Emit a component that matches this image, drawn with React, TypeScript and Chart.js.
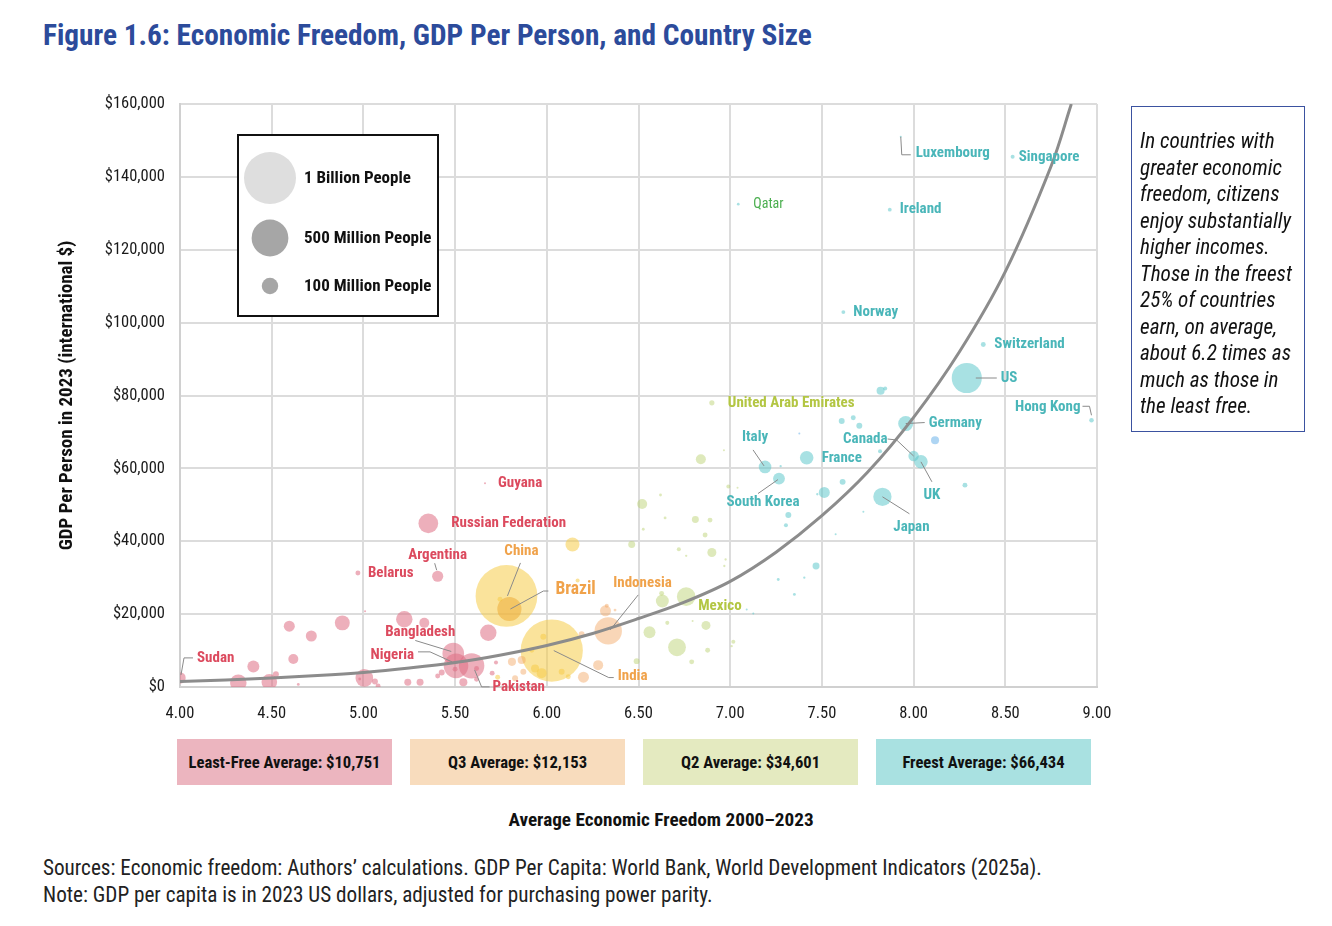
import React, { useEffect, useRef } from "react";
import { Chart, registerables } from "chart.js";

Chart.register(...registerables);

const CF = "'Roboto Condensed','Liberation Sans Narrow','Arial Narrow','DejaVu Sans Condensed',Roboto,sans-serif";

// ---------------- DATA ----------------
// Country names ('' = unlabeled), average economic freedom, GDP per person (2023 PPP $), population (millions), quartile colour group
const names = [
  "Sudan", "Belarus", "Argentina", "Russian Federation", "Guyana", "Bangladesh", "Nigeria", "Pakistan",
  "China", "Brazil", "Indonesia", "India", "Mexico", "United Arab Emirates", "Qatar", "Italy", "South Korea",
  "France", "Canada", "UK", "Germany", "Japan", "US", "Switzerland", "Hong Kong", "Norway", "Ireland",
  "Singapore", "Luxembourg",
  // least free (unlabeled)
  "", "", "", "", "", "", "", "", "", "", "", "", "", "", "", "", "", "", "", "", "", "", "", "", "", "", "",
  // Q3 (unlabeled)
  "", "", "", "", "", "", "", "", "", "",
  "", "", "", "", "", "", "", "", "", "",
  // Q2 (unlabeled)
  "", "", "", "", "", "", "", "", "", "", "", "", "", "", "", "", "", "", "", "", "", "", "", "", "", "", "", "", "",
  // freest (unlabeled)
  "", "", "", "", "", "", "", "", "", "", "", "", "", "", "", "", "", "", "", "", "", "", "",
];

const freedom = [
  4.0, 4.97, 5.405, 5.354, 5.663, 5.49, 5.505, 5.59,
  5.78, 5.796, 6.335, 6.027, 6.76, 6.9, 7.044, 7.19, 7.266,
  7.417, 8.0, 8.04, 7.957, 7.83, 8.29, 8.38, 8.97, 7.617, 7.87,
  8.54, 7.93,
  4.318, 4.4, 4.487, 4.523, 4.596, 4.618, 4.645, 4.716, 4.885, 5.009, 5.005, 4.98, 5.063, 5.08, 5.223, 5.332, 5.242, 5.309, 5.405, 5.427, 5.545, 5.681, 5.617, 5.702, 5.723, 5.5, 5.617,
  6.14, 6.168, 5.745, 5.918, 5.936, 5.972, 6.081, 6.117, 5.981, 5.732,
  6.28, 6.32, 6.327, 6.372, 6.19, 6.2, 5.81, 5.863, 5.872, 5.827,
  6.84, 6.966, 6.99, 7.04, 6.52, 6.62, 6.645, 6.526, 6.81, 6.89, 6.863, 6.463, 6.72, 6.76, 6.9, 6.975, 6.968, 6.626, 6.63, 6.657, 6.56, 6.795, 6.868, 6.71, 6.877, 6.79, 6.49, 7.017, 7.008,
  7.608, 7.671, 7.704, 7.82, 7.845, 7.377, 7.275, 7.817, 7.613, 7.513, 7.475, 7.317, 7.304, 7.726, 7.575, 7.468, 7.262, 7.404, 7.35, 8.28, 7.126, 7.09, 8.117,
];

const gdp = [
  2500, 31300, 30400, 44900, 55900, 9200, 5800, 5800,
  25000, 21400, 15400, 10000, 24800, 78000, 132500, 60400, 57200,
  62900, 63400, 61800, 72300, 52200, 84800, 94000, 73200, 102900, 131000,
  145500, 151000,
  1200, 5600, 1400, 3500, 16700, 7700, 700, 14000, 17600, 20800, 2500, 2200, 1500, 300, 18600, 17600, 1300, 1300, 3000, 4000, 1300, 14900, 2100, 3800, 6700, 4900, 5100,
  39100, 29200, 24100, 10100, 5100, 3800, 4200, 2800, 13800, 2700,
  6000, 20900, 22300, 21100, 14500, 2700, 6900, 7400, 4200, 2400,
  62500, 65000, 55000, 54700, 50200, 52700, 46400, 43300, 46000, 45800, 41700, 39100, 37800, 36000, 36900, 35000, 33200, 25700, 23600, 17600, 15000, 18100, 16900, 10900, 10100, 6900, 7100, 12400, 11200,
  73000, 73900, 71700, 81300, 81900, 69600, 60600, 64700, 56300, 53400, 52900, 47200, 44400, 48100, 41900, 33200, 29500, 30000, 25400, 55400, 20200, 21300, 67700,
];

const population = [
  48, 9, 46, 144, 0.8, 173, 224, 240,
  1410, 216, 278, 1430, 128, 10, 2.7, 59, 52,
  68, 40, 68, 84, 124, 335, 8.8, 7.5, 5.5, 5.3,
  5.9, 0.66,
  100, 53, 90, 13, 45, 37, 3, 45, 83, 1.5, 115, 3, 13, 9, 100, 37, 18, 18, 9, 13, 24, 100, 9, 9, 6, 9, 9,
  72, 6, 9, 9, 24, 37, 13, 9, 13, 9,
  37, 45, 6, 3, 13, 45, 24, 24, 13, 13,
  37, 1.5, 6, 1.5, 37, 3, 3, 3, 18, 9, 9, 18, 6, 2, 30, 2, 2, 9, 62, 6, 53, 1.5, 30, 117, 9, 9, 13, 6, 2,
  13, 9, 13, 24, 6, 1, 2, 6, 13, 45, 2, 13, 6, 1, 1, 18, 3, 2, 3, 9, 1.5, 1.5, 24,
];

// L = least free, Y/B/P = third quartile, G = second quartile, T = freest, U = other territories
const groups = [
  "L", "L", "L", "L", "L", "L", "L", "L",
  "Y", "B", "P", "Y", "G", "G", "T", "T", "T",
  "T", "T", "T", "T", "T", "T", "T", "T", "T", "T",
  "T", "T",
  "L", "L", "L", "L", "L", "L", "L", "L", "L", "L", "L", "L", "L", "L", "L", "L", "L", "L", "L", "L", "L", "L", "L", "L", "L", "L", "L",
  "Y", "Y", "Y", "Y", "Y", "Y", "Y", "Y", "Y", "Y",
  "P", "P", "P", "P", "P", "P", "P", "P", "P", "P",
  "G", "G", "G", "G", "G", "G", "G", "G", "G", "G", "G", "G", "G", "G", "G", "G", "G", "G", "G", "G", "G", "G", "G", "G", "G", "G", "G", "G", "G",
  "T", "T", "T", "T", "T", "U", "T", "T", "T", "T", "T", "T", "T", "T", "T", "T", "T", "T", "T", "T", "T", "T", "U",
];

// Trend line
const trendFreedom = [4.0, 4.25, 4.5, 4.75, 5.0, 5.25, 5.5, 5.75, 6.0, 6.25, 6.5, 6.75, 7.0, 7.25, 7.5, 7.75, 8.0, 8.25, 8.5, 8.75, 8.86];
const trendGdp = [1500, 1950, 2500, 3150, 4000, 5200, 6700, 8800, 11400, 14700, 18800, 23300, 29000, 37000, 47000, 59000, 74000, 92000, 114000, 143000, 160000];

const xTicks = [4, 4.5, 5, 5.5, 6, 6.5, 7, 7.5, 8, 8.5, 9];
const yTicks = [0, 20000, 40000, 60000, 80000, 100000, 120000, 140000, 160000];

const legendPops = [1000, 500, 100];
const legendLabels = ["1 Billion People", "500 Million People", "100 Million People"];

const quartileNames = ["Least-Free Average", "Q3 Average", "Q2 Average", "Freest Average"];
const quartileAverages = [10751, 12153, 34601, 66434];

const noteLines = [
  "In countries with", "greater economic", "freedom, citizens", "enjoy substantially", "higher incomes.",
  "Those in the freest", "25% of countries", "earn, on average,", "about 6.2 times as", "much as those in", "the least free.",
];

const sourceLines = [
  "Sources: Economic freedom: Authors\u2019 calculations. GDP Per Capita: World Bank, World Development Indicators (2025a).",
  "Note: GDP per capita is in 2023 US dollars, adjusted for purchasing power parity.",
];

// ---------------- STYLE ----------------
const groupFill: Record<string, string> = {
  L: "rgba(222,110,132,0.55)",
  Y: "rgba(246,204,72,0.55)",
  B: "rgba(238,176,64,0.6)",
  P: "rgba(242,165,95,0.45)",
  G: "rgba(182,206,104,0.45)",
  T: "rgba(96,200,204,0.55)",
  U: "rgba(120,185,235,0.6)",
};
const groupText: Record<string, string> = {
  L: "#dc4a5e", Y: "#f0a24a", B: "#f0a24a", P: "#f0a24a", G: "#b3c643", T: "#4ab6b9", U: "#4ab6b9",
};
const boxColors = ["#ecb5bf", "#f8dcbd", "#e4eac0", "#a9e1e1"];

const radiusOf = (pop: number) => Math.max(1, 26 * Math.sqrt(pop / 1000));

type LabelSpec = { name: string; dx: number; dy: number; align?: CanvasTextAlign; leader?: number[][]; size?: number; color?: string; weight?: string };
const LABELS: LabelSpec[] = [
  { name: "Sudan", dx: 17, dy: -20, leader: [[1, -3], [4, -20], [13, -20]] },
  { name: "Belarus", dx: 10, dy: 0 },
  { name: "Argentina", dx: 0, dy: -21, align: "center", leader: [[-1, -6], [-3, -13]] },
  { name: "Russian Federation", dx: 23, dy: 0 },
  { name: "Guyana", dx: 13, dy: 0 },
  { name: "Bangladesh", dx: 2, dy: -21, align: "right", leader: [[-38, -13], [-2, -2]] },
  { name: "Nigeria", dx: -42, dy: -11, align: "right", leader: [[-38, -14], [-26, -14], [-4, -4]] },
  { name: "Pakistan", dx: 21, dy: 21, leader: [[18, 21], [10, 21], [3, 4]] },
  { name: "China", dx: 15, dy: -45, align: "center", leader: [[14, -33], [1, 0]] },
  { name: "Brazil", dx: 46, dy: -19, size: 17.5, leader: [[39, -18], [34, -18], [1, 0]] },
  { name: "Indonesia", dx: 5, dy: -48, leader: [[30, -36], [2, -1]] },
  { name: "India", dx: 66, dy: 26, leader: [[62, 27], [57, 27], [2, 0]] },
  { name: "Mexico", dx: 12, dy: 10 },
  { name: "United Arab Emirates", dx: 16, dy: 0 },
  { name: "Qatar", dx: 15, dy: 0, color: "#4caf50", weight: "normal", size: 14 },
  { name: "Italy", dx: -10, dy: -30, align: "center", leader: [[-12, -17], [-1, -1]] },
  { name: "South Korea", dx: -16, dy: 24, align: "center", leader: [[-21, 15], [-1, 1]] },
  { name: "France", dx: 15, dy: 0 },
  { name: "Canada", dx: -26, dy: -17, align: "right", leader: [[-26, -17], [-17, -16], [0, 0]] },
  { name: "Germany", dx: 23, dy: 0, leader: [[19, -1], [0, 0]] },
  { name: "UK", dx: 11, dy: 33, align: "center", leader: [[11, 20], [0, 0]] },
  { name: "Japan", dx: 29, dy: 30, align: "center", leader: [[27, 17], [0, 0]] },
  { name: "US", dx: 34, dy: 0, leader: [[30, 0], [9, 0]] },
  { name: "Switzerland", dx: 11, dy: 0 },
  { name: "Hong Kong", dx: -11, dy: -13, align: "right", leader: [[-9, -14], [-2, -14], [0, -5]] },
  { name: "Norway", dx: 10, dy: 0 },
  { name: "Ireland", dx: 10, dy: 0 },
  { name: "Singapore", dx: 6, dy: 0 },
  { name: "Luxembourg", dx: 15, dy: 16, leader: [[0, 0], [1, 18], [10, 18]] },
];

const labelPlugin = {
  id: "countryLabels",
  afterDatasetsDraw(chart: any) {
    const { ctx, scales } = chart;
    const xs = scales.x, ys = scales.y;
    ctx.save();
    // country labels
    LABELS.forEach((l) => {
      const i = names.indexOf(l.name);
      if (i < 0) return;
      const px = xs.getPixelForValue(freedom[i]);
      const py = ys.getPixelForValue(gdp[i]);
      if (l.leader) {
        ctx.beginPath();
        l.leader.forEach(([dx, dy], k) => (k ? ctx.lineTo(px + dx, py + dy) : ctx.moveTo(px + dx, py + dy)));
        ctx.strokeStyle = "#8a8a8a";
        ctx.lineWidth = 1;
        ctx.stroke();
      }
      ctx.font = `${l.weight || "bold"} ${l.size || 15}px ${CF}`;
      ctx.fillStyle = l.color || groupText[groups[i]];
      ctx.textAlign = l.align || "left";
      ctx.textBaseline = "middle";
      ctx.fillText(l.name, px + l.dx, py + l.dy);
    });
    // size legend
    const bx = 230, by = 127, bw = 200, bh = 181;
    ctx.fillStyle = "#ffffff";
    ctx.fillRect(bx, by, bw, bh);
    ctx.strokeStyle = "#111";
    ctx.lineWidth = 2;
    ctx.strokeRect(bx, by, bw, bh);
    const rowsY = [170, 230, 278];
    const fills = ["#dedede", "#a6a6a6", "#a6a6a6"];
    legendPops.forEach((p, k) => {
      ctx.beginPath();
      ctx.arc(262, rowsY[k], radiusOf(p), 0, Math.PI * 2);
      ctx.fillStyle = fills[k];
      ctx.fill();
      ctx.font = `bold 17px ${CF}`;
      ctx.fillStyle = "#111";
      ctx.textAlign = "left";
      ctx.textBaseline = "middle";
      ctx.fillText(legendLabels[k], 296, rowsY[k] + 1);
    });
    ctx.restore();
  },
};

const groupOrder = ["U", "L", "B", "P", "Y", "G", "T"];

export default function App() {
  const ref = useRef<HTMLCanvasElement>(null);
  useEffect(() => {
    if (!ref.current) return;
    const bubbleSets = groupOrder.map((g, k) => {
      const idx = names.map((_, i) => i).filter((i) => groups[i] === g);
      idx.sort((a, b) => population[b] - population[a]);
      return {
        type: "bubble" as const,
        label: g,
        order: 1 + k,
        data: idx.map((i) => ({ x: freedom[i], y: gdp[i], r: radiusOf(population[i]) })),
        backgroundColor: groupFill[g],
        borderWidth: 0,
        hoverBorderWidth: 0,
      };
    });
    const chart = new Chart(ref.current, {
      type: "bubble",
      data: {
        datasets: [
          {
            type: "line",
            label: "trend",
            order: 0,
            data: trendFreedom.map((x, i) => ({ x, y: trendGdp[i] })),
            borderColor: "#8c8c8c",
            borderWidth: 3,
            pointRadius: 0,
            tension: 0.35,
            fill: false,
          } as any,
          ...bubbleSets,
        ],
      },
      options: {
        animation: false,
        responsive: false,
        events: [],
        layout: { padding: { left: 40, top: 96, right: 227, bottom: 0 } },
        plugins: { legend: { display: false }, tooltip: { enabled: false } },
        scales: {
          x: {
            type: "linear",
            min: 4,
            max: 9,
            afterFit: (s: any) => { s.height = 46; },
            afterBuildTicks: (s: any) => { s.ticks = xTicks.map((v) => ({ value: v })); },
            grid: { color: "#dcdcdc", lineWidth: 2, drawTicks: false },
            border: { color: "#d0d0d0", width: 2 },
            ticks: {
              autoSkip: false,
              padding: 16.5,
              color: "#1a1a1a",
              font: { family: CF, size: 16.5 },
              callback: (v: any) => Number(v).toFixed(2),
            },
          },
          y: {
            type: "linear",
            min: 0,
            max: 160000,
            afterFit: (s: any) => { s.width = 132; },
            afterBuildTicks: (s: any) => { s.ticks = yTicks.map((v) => ({ value: v })); },
            grid: { color: "#dcdcdc", lineWidth: 2, drawTicks: false },
            border: { color: "#d0d0d0", width: 2 },
            ticks: {
              autoSkip: false,
              padding: 15,
              color: "#1a1a1a",
              font: { family: CF, size: 16.5 },
              callback: (v: any) => "$" + Number(v).toLocaleString("en-US"),
            },
            title: {
              display: true,
              text: "GDP Per Person in 2023 (international $)",
              color: "#111",
              font: { family: CF, size: 19, weight: "bold" },
              padding: { top: 7.6, bottom: 0 },
            },
          },
        },
      },
      plugins: [labelPlugin],
    });
    return () => chart.destroy();
  }, []);

  return (
    <div style={{ position: "relative", width: 1316, height: 910, fontFamily: CF, color: "#111" }}>
      <div style={{ position: "absolute", left: 35, top: 10, fontSize: 29.3, fontWeight: "bold", color: "#2c4b9b", lineHeight: "34px", whiteSpace: "nowrap" }}>
        Figure 1.6: Economic Freedom, GDP Per Person, and Country Size
      </div>
      <canvas ref={ref} width={1316} height={725} style={{ position: "absolute", left: 0, top: 0 }} />
      <div style={{ position: "absolute", left: 1123, top: 98, width: 172, height: 324, border: "1px solid #3b52a0", boxSizing: "content-box" }}>
        <div style={{ position: "absolute", left: 8, top: 21, fontSize: 21.2, fontStyle: "italic", lineHeight: "26.5px", whiteSpace: "nowrap", color: "#111" }}>
          {noteLines.map((t, i) => (<div key={i}>{t}</div>))}
        </div>
      </div>
      {quartileNames.map((q, i) => (
        <div key={q} style={{ position: "absolute", left: 169 + i * 233, top: 731, width: 215, height: 46, background: boxColors[i], display: "flex", alignItems: "center", justifyContent: "center", fontWeight: "bold", fontSize: 16.6 }}>
          {`${q}: $${quartileAverages[i].toLocaleString("en-US")}`}
        </div>
      ))}
      <div style={{ position: "absolute", left: 353, width: 600, top: 800, textAlign: "center", fontWeight: "bold", fontSize: 19.2 }}>
        Average Economic Freedom 2000{"\u2013"}2023
      </div>
      <div style={{ position: "absolute", left: 35, top: 846, fontSize: 21.2, lineHeight: "27px", color: "#222", whiteSpace: "nowrap" }}>
        {sourceLines.map((t, i) => (<div key={i}>{t}</div>))}
      </div>
    </div>
  );
}
